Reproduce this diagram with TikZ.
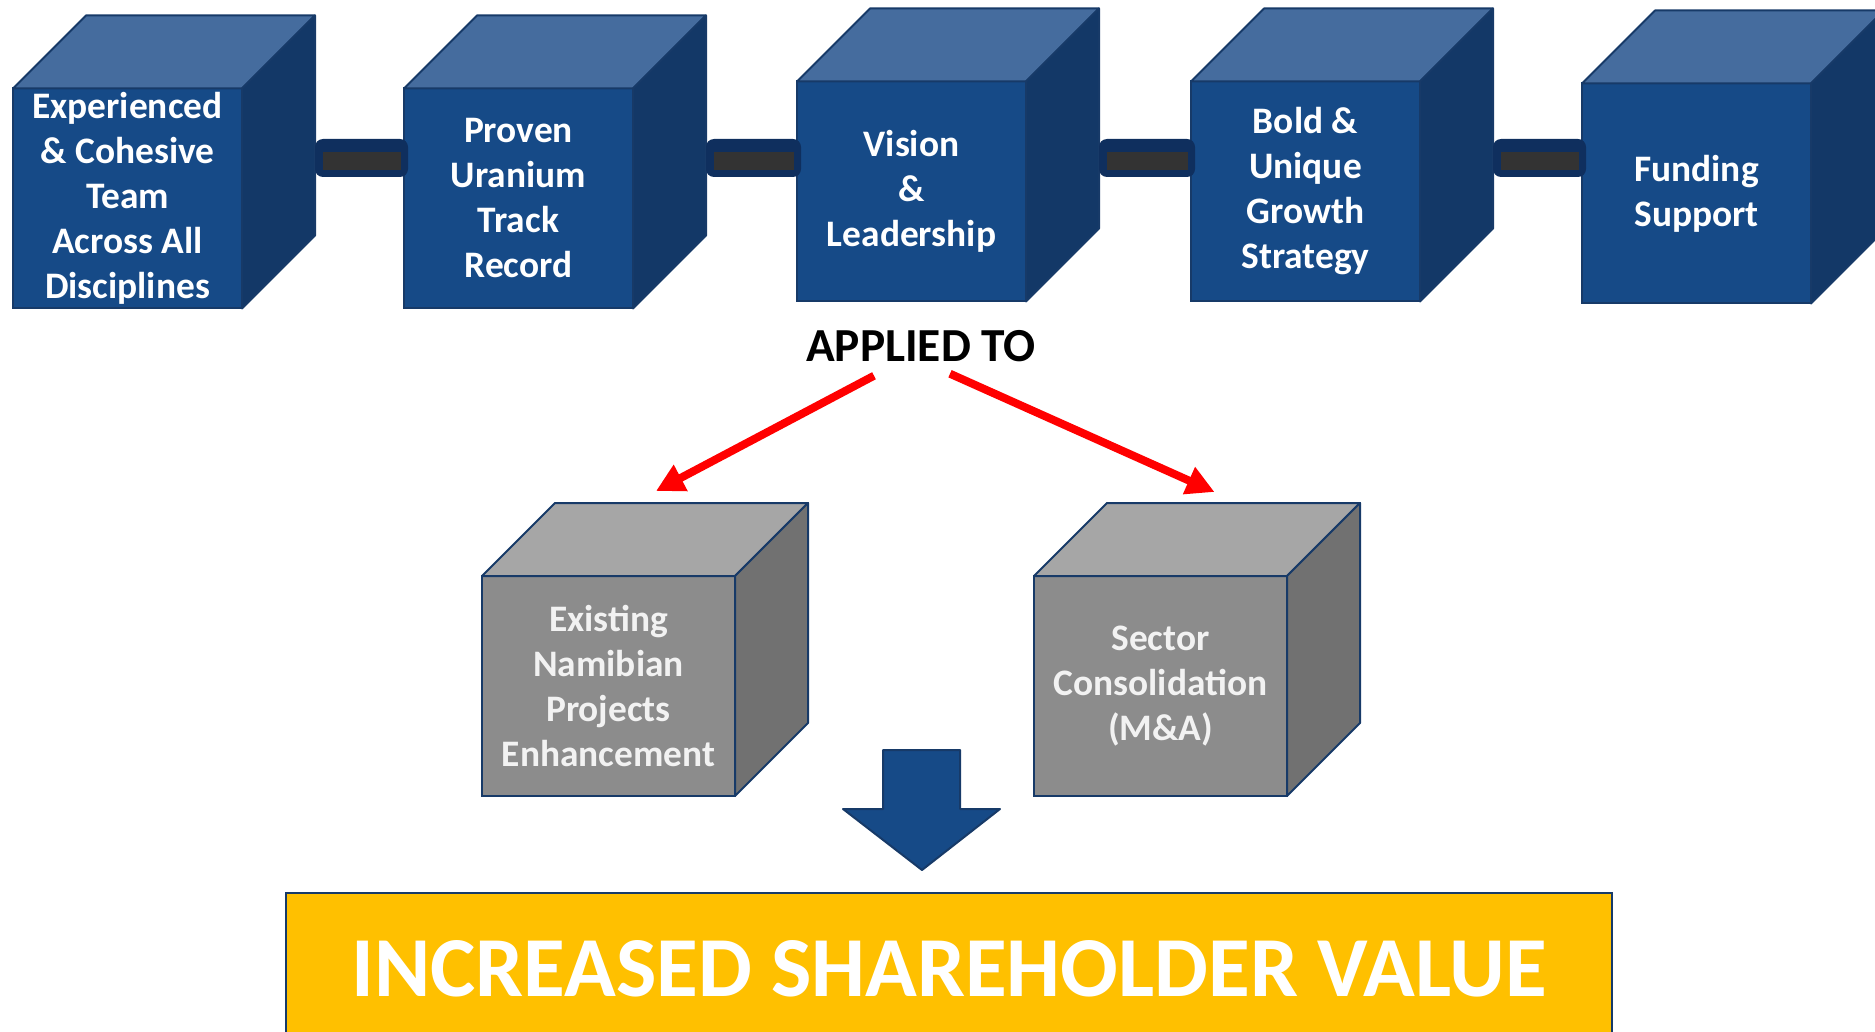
\documentclass[tikz,border=0pt]{standalone}
\usepackage{fontspec}
\setmainfont{Carlito}
\usetikzlibrary{positioning}
\usetikzlibrary{arrows.meta}

\definecolor{faceblue}{HTML}{164A87}
\definecolor{topblue}{HTML}{456C9E}
\definecolor{sideblue}{HTML}{133867}
\definecolor{edgeblue}{HTML}{173A68}
\definecolor{linkblue}{HTML}{0F2F5E}
\definecolor{linkgray}{HTML}{333333}
\definecolor{facegray}{HTML}{8C8C8C}
\definecolor{topgray}{HTML}{A6A6A6}
\definecolor{sidegray}{HTML}{717171}
\definecolor{valueyellow}{HTML}{FFC000}

% top and side faces of a cube whose front face is node #1
\newcommand{\cubesides}[3]{%
	\filldraw[fill=#2, draw=edgeblue, line width=1pt, line join=round]
		(#1.north west) -- ([shift={(73,-73)}]#1.north west) -- ([shift={(73,-73)}]#1.north east) -- (#1.north east) -- cycle;
	\filldraw[fill=#3, draw=edgeblue, line width=1pt, line join=round]
		(#1.north east) -- ([shift={(73,-73)}]#1.north east) -- ([shift={(73,-73)}]#1.south east) -- (#1.south east) -- cycle;
}

\begin{document}
\begin{tikzpicture}[x=0.5pt, y=-0.5pt,
	cube/.style={rectangle, draw=edgeblue, line width=1pt, fill=faceblue, text=white, align=center, inner sep=0pt, outer sep=0pt, minimum width=114.5pt, minimum height=110pt, font=\bfseries\fontsize{18.7pt}{22.5pt}\selectfont},
	graycube/.style={cube, fill=facegray, minimum width=126.5pt, text=white!95!black},
	redarrow/.style={draw=red, line width=4pt, -{Triangle[length=14pt, width=14pt]}}]
	\useasboundingbox (0,0) rectangle (1875,1032);
	\clip (0,0) rectangle (1875,1032);

	% top row
	\node [cube] (team) at (127.5,198.5) {Experienced\\\& Cohesive\\Team\\Across All\\Disciplines};
	\cubesides{team}{topblue}{sideblue}
	\node [cube, right=81pt of team] (uranium) {Proven\\Uranium\\Track\\Record};
	\cubesides{uranium}{topblue}{sideblue}
	\node [cube, right=82pt of uranium, yshift=3.5pt] (vision) {Vision\\\&\\Leadership};
	\cubesides{vision}{topblue}{sideblue}
	\node [cube, right=82.5pt of vision] (strategy) {Bold \&\\Unique\\Growth\\Strategy};
	\cubesides{strategy}{topblue}{sideblue}
	\node [cube, right=81pt of strategy, yshift=-1pt] (funding) {Funding\\Support};
	\cubesides{funding}{topblue}{sideblue}

	% links between the cubes
	\coordinate (linkt) at (0,139);
	\coordinate (linkb) at (0,177);
	\coordinate (innert) at (0,152);
	\coordinate (innerb) at (0,170);
	\foreach \a/\b in {team/uranium, uranium/vision, vision/strategy, strategy/funding} {
		\path (\a.east) ++(73,0) coordinate (l);
		\path (\b.west) ++(4,0) coordinate (r);
		\path (l) ++(8,0) coordinate (li);
		\path (r) ++(-7,0) coordinate (ri);
		\fill[linkblue, rounded corners=4pt] (l |- linkt) rectangle (r |- linkb);
		\fill[linkgray] (li |- innert) rectangle (ri |- innerb);
	}

	\node [anchor=base, inner sep=0pt, font=\bfseries\fontsize{23.7pt}{28pt}\selectfont] (applied) at (921,362) {APPLIED TO};

	% second row
	\node [graycube] (existing) at (608.5,686) {Existing\\Namibian\\Projects\\Enhancement};
	\cubesides{existing}{topgray}{sidegray}
	\node [graycube, right=149.5pt of existing] (consolidation) {Sector\\Consolidation\\(M\&A)};
	\cubesides{consolidation}{topgray}{sidegray}

	\draw[redarrow] ([xshift=-23.5pt, yshift=-6.5pt]applied.south) -- ([xshift=23.75pt, yshift=42.5pt]existing.north);
	\draw[redarrow] ([xshift=14.5pt, yshift=-5.5pt]applied.south) -- ([xshift=27pt, yshift=42pt]consolidation.north);

	% down arrow
	\filldraw[fill=faceblue, draw=edgeblue, line width=1pt, line join=round]
		(883,750) -- (960,750) -- (960,809) -- (1000,809) -- (922,870) -- (843,809) -- (883,809) -- cycle;

	\node [rectangle, draw=edgeblue, line width=1pt, fill=valueyellow, text=white, inner sep=0pt, minimum width=663pt, minimum height=76pt, font=\bfseries\fontsize{42.7pt}{50pt}\selectfont] (value) at (949,969) {INCREASED SHAREHOLDER VALUE};
\end{tikzpicture}
\end{document}
